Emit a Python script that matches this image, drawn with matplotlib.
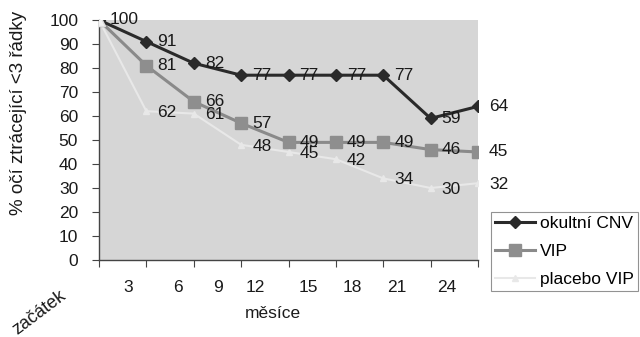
import matplotlib
matplotlib.use("Agg")
import matplotlib.pyplot as plt
from matplotlib.transforms import blended_transform_factory

plt.rcParams['font.family'] = ['Liberation Sans', 'DejaVu Sans']

categories = ["začátek", "3", "6", "9", "12", "15", "18", "21", "24"]
cnv = [100, 91, 82, 77, 77, 77, 77, 59, 64]
vip = [100, 81, 66, 57, 49, 49, 49, 46, 45]
placebo = [100, 62, 61, 48, 45, 42, 34, 30, 32]
series_names = ["okultní CNV", "VIP", "placebo VIP"]
y_ticks = list(range(0, 101, 10))

# layout: where the month labels sit along the x axis (in point index units)
month_label_pos = [0.61, 1.67, 2.51, 3.29, 4.42, 5.34, 6.29, 7.34]

FS = 12.5
TXT = '#1a1a1a'

fig = plt.figure(figsize=(6.4, 3.37), dpi=100)
ax = fig.add_axes([99/640, 77/337, 379/640, 240/337])
ax.set_facecolor('#d6d6d6')

x = list(range(len(cnv)))
ax.plot(x, placebo, color='#e8e8e8', lw=1.5, marker='^', ms=4,
        mfc='#e8e8e8', mec='#e8e8e8', label=series_names[2], zorder=3)
ax.plot(x, vip, color='#8a8a8a', lw=2.2, marker='s', ms=8,
        mfc='#8e8e8e', mec='#8e8e8e', label=series_names[1], zorder=4)
ax.plot(x, cnv, color='#2a2a2a', lw=2.2, marker='D', ms=6.5,
        mfc='#2a2a2a', mec='#2a2a2a', label=series_names[0], zorder=5)
# placebo first marker sits on top in the reference
ax.plot(x[:1], placebo[:1], marker='^', ms=8, mfc='#f2f2f2', mec='#dddddd',
        ls='none', zorder=6)

lab_kw = dict(fontsize=FS, color=TXT, ha='left', va='center',
              textcoords='offset points', zorder=7)
for i, v in enumerate(cnv):
    ax.annotate(str(v), (i, v), xytext=(8, 0), **lab_kw)
for i, v in enumerate(vip):
    if i == 0:
        continue
    ax.annotate(str(v), (i, v), xytext=(8, 0), **lab_kw)
for i, v in enumerate(placebo):
    if i == 0:
        continue
    ax.annotate(str(v), (i, v), xytext=(8, -1), **lab_kw)

ax.set_xlim(0, len(cnv) - 1)
ax.set_ylim(0, 100)
ax.set_yticks(y_ticks)
ax.set_yticklabels([str(t) for t in y_ticks], fontsize=FS)
ax.set_xticks(x)
ax.set_xticklabels([''] * len(x))
ax.tick_params(axis='both', direction='out', length=5, color='#444444',
               labelcolor=TXT)
ax.tick_params(axis='y', pad=10)
for s in ['top', 'right']:
    ax.spines[s].set_visible(False)
for s in ['left', 'bottom']:
    ax.spines[s].set_color('#444444')
    ax.spines[s].set_linewidth(1.0)

trans = blended_transform_factory(ax.transData, ax.transAxes)
for pos, lab in zip(month_label_pos, categories[1:]):
    ax.text(pos, -0.115, lab, transform=trans, ha='center', va='center',
            fontsize=FS, color=TXT)
fig.text(39/640, 1 - 313/337, categories[0], rotation=37, ha='center',
         va='center', fontsize=13, color=TXT)

fig.text(273/640, 1 - 313/337, "měsíce", ha='center', va='center',
         fontsize=FS, color=TXT)
fig.text(19/640, 1 - 113/337, "% očí ztrácející <3 řádky", rotation=90,
         ha='center', va='center', fontsize=13.5, color=TXT)

handles, labels = ax.get_legend_handles_labels()
order = [2, 1, 0]
leg = fig.legend([handles[i] for i in order], [labels[i] for i in order],
                 loc='upper left', bbox_to_anchor=(491/640, 1 - 212/337),
                 fontsize=FS, frameon=True, fancybox=False, handlelength=2.3,
                 handletextpad=0.25, borderpad=0.25, labelspacing=0.72,
                 borderaxespad=0)
leg.get_frame().set_edgecolor('#777777')
leg.get_frame().set_linewidth(0.8)

fig.savefig('out.png', dpi=100)
